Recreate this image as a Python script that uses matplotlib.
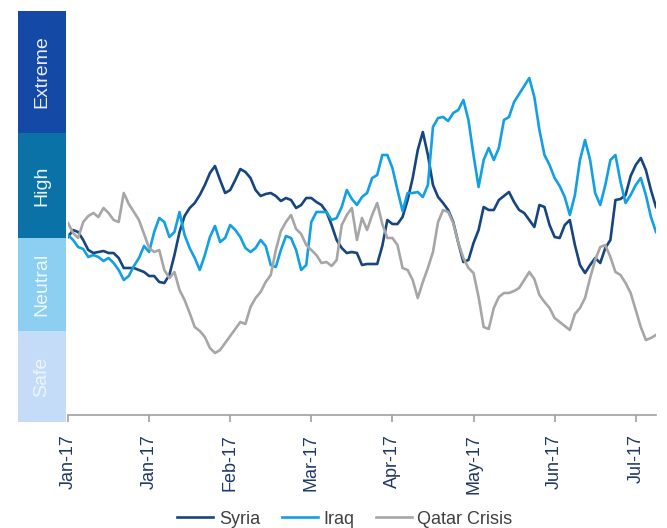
import numpy as np
import matplotlib
matplotlib.use("Agg")
import matplotlib.pyplot as plt
from matplotlib.patches import Rectangle

plt.rcParams['font.family'] = ['Liberation Sans', 'DejaVu Sans']

# risk index readings (same scale for all three series)
syria = [178, 185, 183, 175, 165, 162, 163, 164, 162, 162, 157, 147, 147, 147, 145, 143, 139, 139, 133, 132,
         140, 160, 183, 199, 207, 212, 220, 230, 242, 249, 235, 222, 225, 235, 246, 243, 237, 225, 219, 221,
         222, 219, 214, 217, 215, 207, 210, 217, 217, 213, 210, 203, 190, 175, 167, 162, 163, 162, 150, 151,
         151, 151, 169, 195, 191, 191, 198, 215, 237, 265, 283, 260, 230, 218, 212, 205, 193, 172, 153, 155,
         172, 185, 208, 205, 205, 215, 219, 223, 213, 205, 202, 195, 188, 210, 208, 190, 178, 177, 190, 195,
         170, 150, 142, 150, 157, 152, 167, 175, 215, 216, 220, 239, 250, 257, 245, 225, 208]
iraq = [180, 175, 168, 166, 158, 160, 158, 154, 157, 152, 145, 135, 139, 149, 157, 169, 163, 183, 197, 193,
        178, 183, 203, 180, 167, 157, 145, 160, 178, 189, 173, 177, 190, 185, 178, 167, 163, 167, 175, 169,
        150, 148, 165, 179, 177, 165, 145, 150, 193, 203, 203, 203, 195, 197, 208, 225, 216, 210, 218, 222,
        237, 240, 260, 260, 247, 225, 204, 222, 222, 223, 218, 230, 288, 297, 298, 294, 302, 305, 315, 295,
        260, 228, 255, 267, 255, 267, 295, 298, 313, 321, 329, 337, 318, 285, 260, 250, 237, 229, 218, 200,
        220, 255, 275, 255, 222, 210, 230, 255, 260, 233, 212, 220, 230, 237, 220, 198, 183]
qatar = [192, 182, 177, 193, 199, 202, 198, 207, 202, 195, 193, 222, 211, 203, 195, 181, 167, 163, 165, 145,
         137, 143, 125, 115, 102, 88, 84, 78, 67, 62, 65, 72, 79, 86, 93, 91, 108, 117, 123, 133,
         140, 165, 184, 193, 200, 186, 181, 170, 165, 160, 152, 153, 149, 155, 190, 200, 207, 175, 197, 185,
         200, 212, 191, 177, 177, 170, 147, 145, 135, 117, 133, 147, 163, 193, 205, 203, 192, 172, 157, 147,
         142, 118, 88, 86, 107, 118, 122, 122, 124, 127, 135, 143, 136, 120, 113, 107, 97, 93, 89, 85,
         101, 107, 117, 137, 155, 168, 170, 158, 143, 140, 132, 122, 105, 88, 75, 77, 80]

tick_idx = [0, 16, 32, 48, 64, 80, 96, 112]
tick_labels = ["Jan-17", "Jan-17", "Feb-17", "Mar-17", "Apr-17", "May-17", "Jun-17", "Jul-17"]

# risk bands: name, lower bound, upper bound, colour
band_names = ["Safe", "Neutral", "High", "Extreme"]
band_lo = [-7, 84, 177, 282]
band_hi = [84, 177, 282, 404]
band_colors = ["#c5dcf8", "#8dcff0", "#0b72a8", "#1549a6"]
band_text = ["#eef4fd", "#eaf6fd", "#e8f2f8", "#e8eef8"]

fig = plt.figure(figsize=[6.67, 5.28], dpi=100)
ax = fig.add_axes([68 / 667, 113 / 528, 588 / 667, 404 / 528])
bx = fig.add_axes([18 / 667, 113 / 528, 48 / 667, 404 / 528])

x = np.arange(len(syria))
ax.plot(x, syria, color="#17457f", lw=1.9, label="Syria")
ax.plot(x, iraq, color="#12a0e3", lw=1.9, label="Iraq")
ax.plot(x, qatar, color="#a6a6a6", lw=1.9, label="Qatar Crisis")

ax.set_xlim(0, len(syria) - 1)
ax.set_ylim(0, 404)
ax.set_yticks([])
for s in ["top", "right", "left"]:
    ax.spines[s].set_visible(False)
ax.spines["bottom"].set_color("#a0a0a0")
ax.spines["bottom"].set_linewidth(1.2)
ax.set_xticks(tick_idx)
ax.set_xticklabels(tick_labels, rotation=90, fontsize=13, color="#1f3864")
ax.tick_params(axis="x", direction="out", length=5, width=1.2, color="#a0a0a0", pad=9)

# coloured band column on the left
bx.set_xlim(0, 1)
bx.set_ylim(0, 404)
bx.axis("off")
for name, lo, hi, c, tc in zip(band_names, band_lo, band_hi, band_colors, band_text):
    bx.add_patch(Rectangle((0, lo), 1, hi - lo, color=c, clip_on=False, lw=0))
    bx.text(0.5, (lo + hi) / 2, name, rotation=90, ha="center", va="center",
            fontsize=14, color=tc, clip_on=False)

fig.legend(loc="center", bbox_to_anchor=(0.517, 0.017), ncol=3, frameon=False,
           fontsize=13, handlelength=2.0, columnspacing=1.2, handletextpad=0.3,
           labelcolor="#404040")

fig.savefig("out.png", dpi=100)
